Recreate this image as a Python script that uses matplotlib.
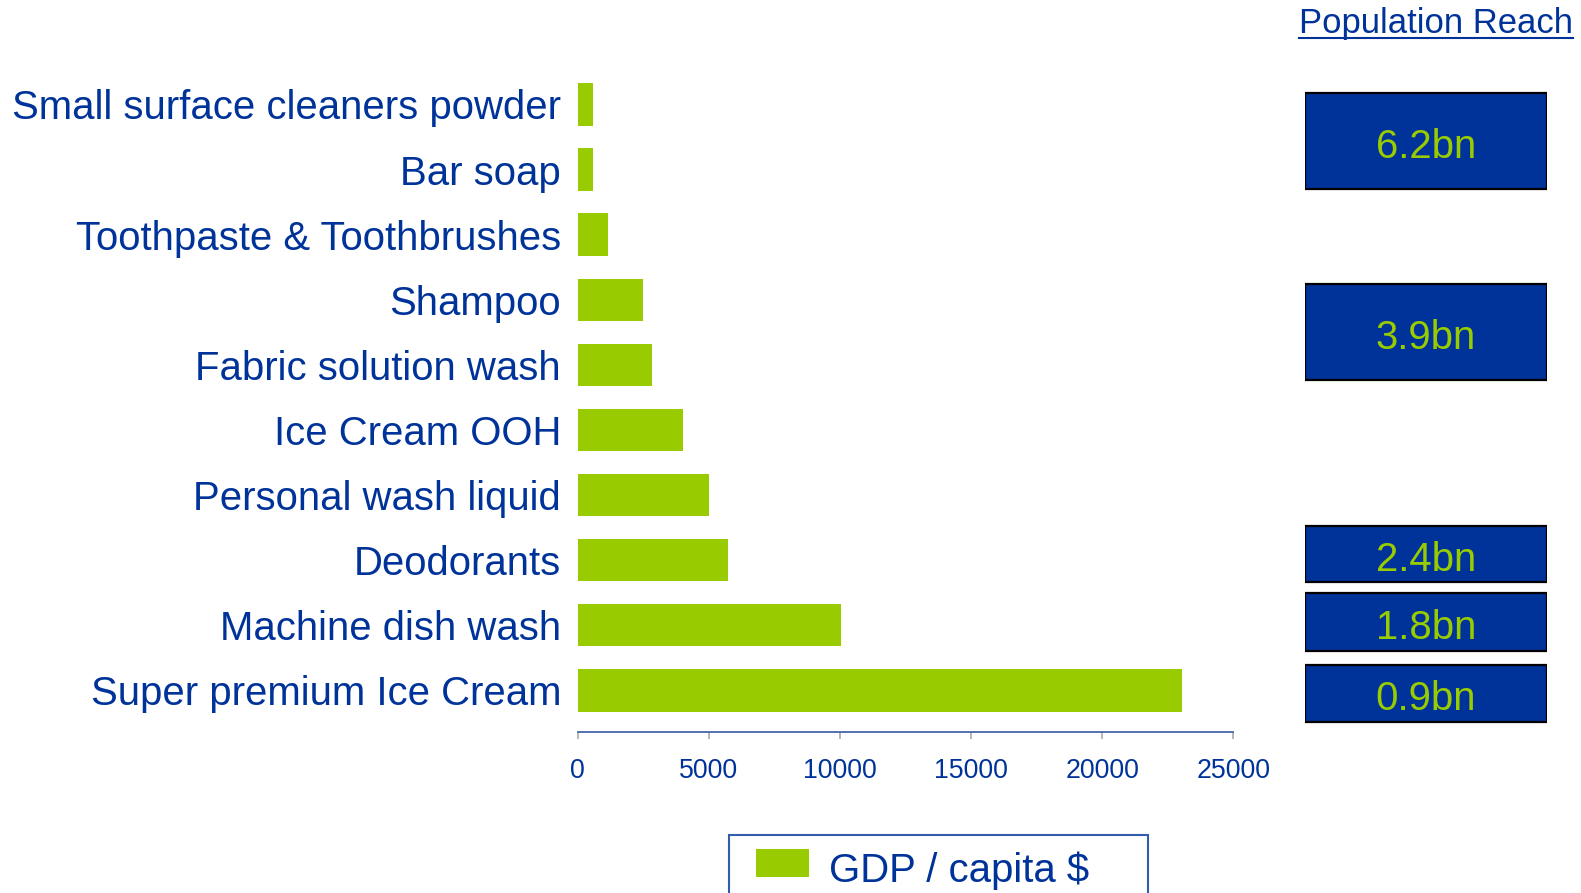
import matplotlib.pyplot as plt
from matplotlib.patches import Rectangle
from matplotlib.lines import Line2D
from matplotlib.container import BarContainer
from matplotlib.legend_handler import HandlerPatch, update_from_first_child

plt.rcParams['font.family'] = ['Liberation Sans', 'DejaVu Sans']

# GDP per capita ($) at which each category takes off, top to bottom
categories = ['Small surface cleaners powder', 'Bar soap', 'Toothpaste & Toothbrushes',
              'Shampoo', 'Fabric solution wash', 'Ice Cream OOH', 'Personal wash liquid',
              'Deodorants', 'Machine dish wash', 'Super premium Ice Cream']
gdp_per_capita = [600, 600, 1150, 2500, 2850, 4000, 5000, 5750, 10050, 23050]

# population reach boxes, top to bottom
reach_labels = ['6.2bn', '3.9bn', '2.4bn', '1.8bn', '0.9bn']
# vertical span of each box in category units (0 = bottom bar)
reach_spans = [(7.70, 9.17), (4.76, 6.24), (1.67, 2.53), (0.60, 1.50), (-0.48, 0.39)]

BLUE = '#003399'
GREEN = '#99CC00'
FS = 28.9


def inset_patch(legend, orig_handle, xdescent, ydescent, width, height, fontsize):
    # legend swatch pushed to the right end of its handle slot, nudged up a bit
    w = 38.2
    return Rectangle((-xdescent + width - w, -ydescent + 3.5), w, height)


fig = plt.figure(figsize=(15.81, 8.93), dpi=100)
ax = fig.add_axes([0.3654, 0.1806, 0.4146, 0.7389])

ypos = list(range(len(categories)))[::-1]
ax.barh(ypos, gdp_per_capita, height=0.65, color=GREEN, label='GDP / capita $')

ax.set_xlim(0, 25000)
ax.set_ylim(-0.635, 9.5)
ax.set_xticks([0, 5000, 10000, 15000, 20000, 25000])
ax.set_yticks(ypos)
ax.set_yticklabels(categories)
ax.tick_params(axis='y', length=0, pad=12, labelsize=FS, labelcolor=BLUE)
ax.tick_params(axis='x', length=5, width=1.2, color='#aaaaaa', pad=14,
               labelsize=19.3, labelcolor=BLUE)
for side in ['top', 'right', 'left']:
    ax.spines[side].set_visible(False)
ax.spines['bottom'].set_color('#4466aa')
ax.spines['bottom'].set_linewidth(1.3)

leg = ax.legend(loc='upper left', bbox_to_anchor=(0.461, 0.0655, 0.265, 0.0),
                bbox_transform=fig.transFigure, mode='expand', fontsize=FS,
                frameon=True, fancybox=False, borderpad=0.42, borderaxespad=0,
                handlelength=1.58, handleheight=0.7, handletextpad=0.5,
                handler_map={BarContainer: HandlerPatch(patch_func=inset_patch,
                                                        update_func=update_from_first_child)})
leg.get_frame().set_edgecolor(BLUE)
leg.get_frame().set_linewidth(1.5)
for t in leg.get_texts():
    t.set_color(BLUE)

# population reach column
ax_r = fig.add_axes([0.8253, 0.1806, 0.153, 0.7389], sharey=ax)
ax_r.set_xlim(0, 1)
ax_r.axis('off')
for label, (lo, hi) in zip(reach_labels, reach_spans):
    ax_r.add_patch(Rectangle((0, lo), 1, hi - lo, facecolor=BLUE,
                             edgecolor='black', linewidth=1.6))
    ax_r.text(0.5, (lo + hi) / 2 - 0.09, label, ha='center', va='center',
              fontsize=FS, color=GREEN)

title = fig.text(0.995, 0.9628, 'Population Reach', ha='right', va='baseline',
                 fontsize=24.9, color=BLUE)
fig.canvas.draw()
bb = title.get_window_extent().transformed(fig.transFigure.inverted())
fig.add_artist(Line2D([bb.x0, bb.x1], [0.957, 0.957], color=BLUE, linewidth=1.5,
                      transform=fig.transFigure))

fig.savefig('out.png', dpi=100)
